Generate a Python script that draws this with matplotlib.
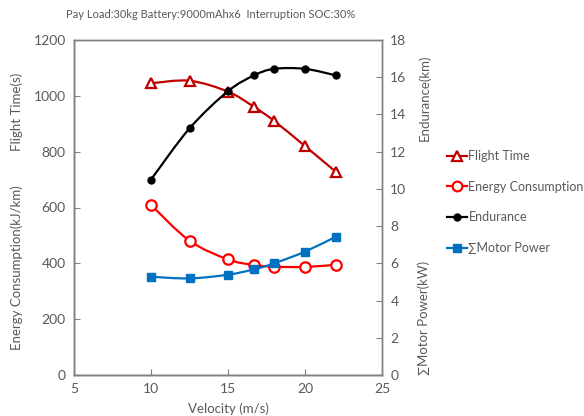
import numpy as np
import matplotlib
matplotlib.use('Agg')
import matplotlib.pyplot as plt
from matplotlib.path import Path
from matplotlib.patches import PathPatch
from matplotlib.lines import Line2D

# ========== DATA ==========
velocity = [10, 12.5, 15, 16.7, 18, 20, 22]
flight_time = [1045, 1054, 1015, 960, 910, 820, 728]        # s, left axis
energy_cons = [609, 481, 414, 394, 388, 387, 395]           # kJ/km, left axis
endurance = [10.5, 13.25, 15.25, 16.1, 16.45, 16.45, 16.1]  # km, right axis
motor_power = [5.28, 5.19, 5.39, 5.68, 6.0, 6.63, 7.43]     # kW, right axis

plt.rcParams['font.family'] = ['Lato', 'DejaVu Sans']
GRAY = '#595959'

# ========== HELPERS ==========

def smooth_path(x, y):
    """Excel-like smoothed line: cubic Bezier through the points."""
    x = np.asarray(x, dtype=float)
    y = np.asarray(y, dtype=float)
    pts = np.column_stack([x, y])
    verts = [pts[0]]
    codes = [Path.MOVETO]
    n = len(pts)
    for i in range(n - 1):
        p0 = pts[max(i - 1, 0)]
        p1 = pts[i]
        p2 = pts[i + 1]
        p3 = pts[min(i + 2, n - 1)]
        c1 = p1 + (p2 - p0) / 6.0
        c2 = p2 - (p3 - p1) / 6.0
        verts += [c1, c2, p2]
        codes += [Path.CURVE4] * 3
    return Path(verts, codes)

def draw_series(ax, x, y, color, marker, ms, mfc, mew, z):
    ax.add_patch(PathPatch(smooth_path(x, y), fc='none', ec=color, lw=1.6, zorder=z))
    ax.plot(x, y, linestyle='none', marker=marker, ms=ms, mfc=mfc, mec=color,
            mew=mew, zorder=z + 0.5)

# ========== PLOT ==========
fig = plt.figure(figsize=(5.84, 4.16), dpi=100)
ax = fig.add_axes([74 / 584, 1 - 375 / 416, (382 - 74) / 584, (375 - 40) / 416])
ax2 = ax.twinx()

draw_series(ax, velocity, flight_time, '#C00000', '^', 7.5, 'white', 1.6, 3)
draw_series(ax, velocity, energy_cons, '#FF0000', 'o', 7.5, 'white', 1.6, 3)
draw_series(ax2, velocity, endurance, 'black', 'o', 5, 'black', 1, 3)
draw_series(ax2, velocity, motor_power, '#0070C0', 's', 6, '#0070C0', 1, 3)

ax.set_xlim(5, 25)
ax.set_ylim(0, 1200)
ax2.set_ylim(0, 18)
ax.set_xticks([5, 10, 15, 20, 25])
ax.set_yticks(range(0, 1201, 200))
ax2.set_yticks(range(0, 19, 2))

for a in (ax, ax2):
    for s in a.spines.values():
        s.set_color('#808080')
        s.set_linewidth(1)
    a.tick_params(direction='in', length=4, color='#808080', labelcolor=GRAY,
                  labelsize=10, pad=6)
ax.spines['left'].set_color('#333333')
ax.spines['bottom'].set_color('#333333')

fig.text(66 / 584, 1 - 15 / 416, 'Pay Load:30kg Battery:9000mAhx6  Interruption SOC:30%',
         ha='left', va='center', fontsize=8, color=GRAY)

fig.text(17 / 584, 1 - 112 / 416, 'Flight Time(s)', rotation=90, ha='center', va='center',
         fontsize=9.5, color=GRAY)
fig.text(17 / 584, 1 - 268 / 416, 'Energy Consumption(kJ/km)', rotation=90, ha='center',
         va='center', fontsize=9.5, color=GRAY)
fig.text(424 / 584, 1 - 98 / 416, 'Endurance(km)', rotation=90, ha='center', va='center',
         fontsize=9.5, color=GRAY)
fig.text(424 / 584, 1 - 318 / 416, '\u2211Motor Power(kW)', rotation=90, ha='center',
         va='center', fontsize=9.5, color=GRAY)

ax.set_xlabel('Velocity (m/s)', fontsize=9.5, color=GRAY, labelpad=5)

handles = [
    Line2D([], [], color='#C00000', marker='^', ms=7, mfc='white', mec='#C00000', mew=1.6, lw=1.6),
    Line2D([], [], color='#FF0000', marker='o', ms=7, mfc='white', mec='#FF0000', mew=1.6, lw=1.6),
    Line2D([], [], color='black', marker='o', ms=5, lw=1.6),
    Line2D([], [], color='#0070C0', marker='s', ms=6, lw=1.6),
]
labels = ['Flight Time', 'Energy Consumption', 'Endurance', '\u2211Motor Power']
fig.legend(handles, labels, loc='center left', bbox_to_anchor=(436 / 584, 1 - 202 / 416),
           frameon=False, fontsize=9, handlelength=1.6, handletextpad=0.1,
           labelspacing=1.5, labelcolor=GRAY)

fig.savefig('out.png', dpi=100)
